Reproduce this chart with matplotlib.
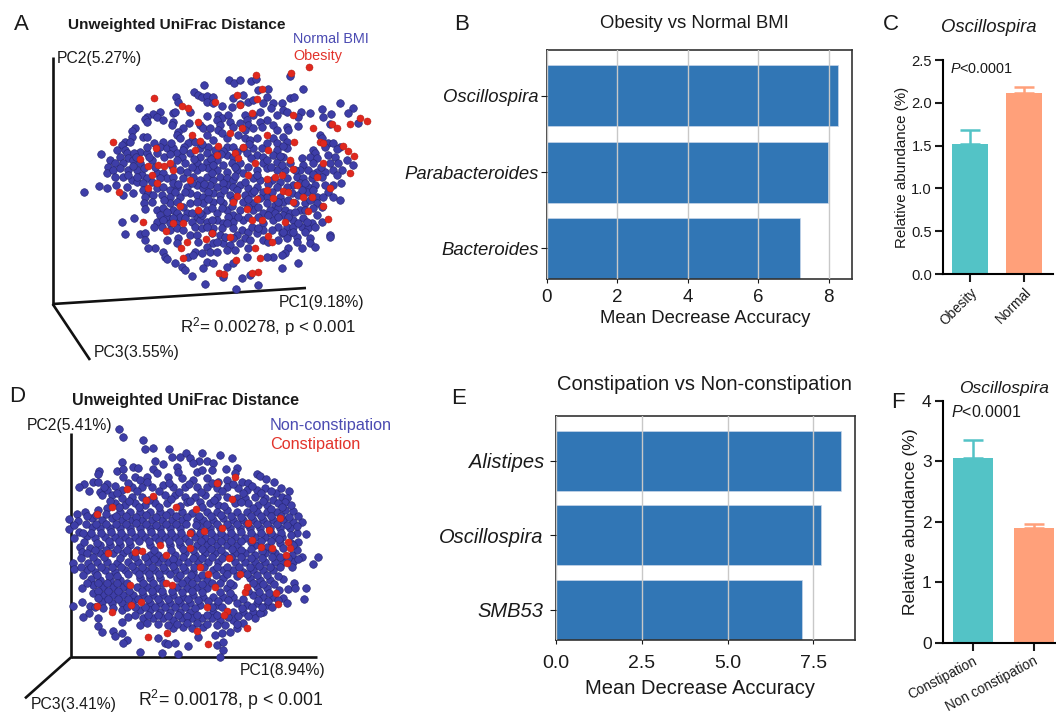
import numpy as np
import matplotlib
matplotlib.use("Agg")
import matplotlib.pyplot as plt

plt.rcParams["font.family"] = ["Liberation Sans", "DejaVu Sans"]
plt.rcParams["mathtext.fontset"] = "custom"
plt.rcParams["mathtext.rm"] = "Liberation Sans"
plt.rcParams["mathtext.it"] = "Liberation Sans:italic"
plt.rcParams["mathtext.default"] = "regular"

W, H = 1056, 712

# PCoA points (picture units, 3 per pixel)
a_normal = np.array([
    686,240, 703,250, 720,240, 752,243, 768,236, 870,228, 908,267, 612,255, 582,275, 593,285, 607,290, 620,287,
    638,290, 528,290, 533,307, 700,295, 730,285, 775,270, 805,268, 800,290, 745,305, 870,293, 882,292, 1019,310,
    416,323, 620,305, 640,310, 665,318, 695,320, 720,312, 760,300, 790,310, 820,310, 845,310, 812,325, 850,330,
    860,335, 902,335, 930,340, 967,327, 993,342, 1060,323, 1045,340, 970,352, 520,340, 480,335, 460,342, 440,350,
    470,350, 525,335, 570,335, 622,347, 655,345, 665,355, 685,345, 735,345, 760,345, 780,335, 800,360, 830,345,
    895,350, 435,358, 440,365, 490,360, 520,365, 515,375, 568,370, 548,385, 535,395, 600,375, 650,360, 660,375,
    690,365, 720,370, 740,360, 745,375, 780,365, 820,375, 860,380, 895,378, 1075,370, 990,372, 405,385, 395,392,
    610,385, 630,385, 655,390, 700,380, 735,390, 760,385, 785,380, 830,390, 865,390, 395,412, 430,410, 440,410,
    375,425, 390,425, 365,435, 490,425, 530,405, 540,415, 575,420, 565,430, 620,405, 640,420, 665,400, 680,415,
    715,405, 735,415, 750,420, 770,415, 820,415, 850,410, 860,425, 960,405, 965,415, 985,430, 1000,430, 1020,440,
    940,450, 945,460, 480,440, 500,445, 520,445, 350,450, 375,450, 600,445, 625,440, 680,440, 730,445, 760,445,
    785,445, 830,430, 830,450, 860,445, 303,463, 360,470, 380,460, 385,475, 400,480, 420,455, 440,460, 470,460,
    530,460, 545,470, 570,460, 600,470, 620,460, 640,470, 680,465, 700,470, 740,460, 770,465, 790,470, 820,465,
    850,470, 905,475, 930,470, 950,475, 985,465, 1005,470, 1040,480, 1060,495, 1015,490, 330,480, 345,490, 370,490,
    420,490, 455,480, 530,480, 555,490, 590,490, 620,485, 650,480, 670,495, 695,490, 720,490, 790,490, 830,485,
    870,490, 910,495, 940,490, 990,490, 325,500, 320,520, 340,510, 360,505, 385,510, 410,510, 425,525, 440,535,
    470,520, 490,520, 540,510, 560,515, 590,510, 625,505, 650,510, 680,515, 710,510, 730,520, 770,510, 800,505,
    830,510, 855,510, 900,510, 925,510, 950,515, 975,515, 1000,510, 1025,510, 1010,525, 345,530, 370,530, 395,540,
    410,545, 430,550, 455,545, 500,535, 520,530, 550,535, 580,530, 600,540, 620,530, 640,540, 660,530, 680,535,
    700,540, 760,535, 780,540, 815,540, 840,545, 890,530, 910,535, 935,535, 965,530, 298,558, 320,565, 348,555,
    380,560, 253,575, 370,585, 400,580, 430,570, 445,580, 470,565, 490,560, 510,570, 530,560, 560,560, 590,555,
    610,565, 630,555, 650,560, 680,555, 700,560, 720,555, 745,565, 770,560, 790,575, 830,560, 880,555, 900,550,
    925,560, 945,555, 975,555, 1000,555, 1022,550, 985,575, 1000,590, 1020,600, 435,590, 510,590, 540,590, 570,580,
    590,585, 610,590, 640,580, 660,585, 690,585, 735,585, 755,580, 800,590, 840,590, 875,580, 895,585, 920,575,
    950,590, 970,590, 432,610, 435,628, 470,630, 490,625, 510,610, 520,630, 550,620, 570,610, 610,610, 640,605,
    670,610, 730,605, 760,610, 800,610, 825,615, 850,605, 885,610, 915,610, 950,610, 965,620, 480,645, 500,650,
    530,640, 560,640, 590,650, 620,630, 650,640, 680,630, 700,645, 720,630, 760,630, 790,640, 810,630, 835,625,
    855,630, 870,640, 900,630, 940,625, 950,645, 367,665, 403,653, 470,665, 490,660, 510,670, 530,665, 575,665,
    600,660, 620,665, 650,660, 670,670, 700,665, 730,660, 745,650, 790,670, 820,660, 850,645, 880,660, 910,655,
    935,670, 965,665, 462,680, 420,703, 375,703, 435,700, 510,690, 530,685, 585,680, 605,685, 640,685, 665,685,
    700,685, 725,690, 745,695, 790,690, 835,680, 860,680, 880,680, 905,680, 925,685, 945,680, 990,705, 435,720,
    500,720, 535,715, 570,705, 590,705, 635,700, 660,705, 710,705, 735,715, 770,700, 845,700, 870,700, 890,710,
    930,715, 990,712, 465,745, 445,745, 530,730, 595,725, 620,740, 640,730, 670,730, 690,735, 720,730, 745,745,
    790,720, 805,725, 835,720, 860,715, 890,725, 905,745, 930,730, 945,742, 490,755, 495,770, 500,778, 585,755,
    605,760, 630,755, 650,755, 680,750, 705,750, 740,770, 865,745, 855,760, 820,770, 800,770, 845,765, 895,790,
    565,770, 580,765, 620,785, 640,790, 525,788, 545,800, 555,810, 575,827, 610,805, 680,800, 700,790, 725,835,
    750,825, 845,803, 615,852, 775,855, 707,868, 670,830,
    442,440, 462,428, 512,428, 552,440, 548,450, 585,425, 607,432, 645,450, 668,452, 700,440, 748,432, 802,430,
    848,438, 975,440, 1010,448, 402,460, 408,470, 448,472, 492,470, 510,462, 582,478, 632,478, 662,462, 712,455,
    752,475, 802,480, 840,468, 398,497, 432,505, 465,500, 515,498, 575,502, 605,500, 640,495, 705,500, 745,500,
    812,500, 845,495, 885,510, 962,500, 385,525, 412,530, 480,535, 520,548, 535,552, 575,548, 612,552, 635,520,
    670,548, 705,528, 735,545, 770,525, 805,552, 862,535, 915,550, 940,522, 460,585, 485,585, 525,575, 555,575,
    625,575, 672,570, 712,570, 762,572, 815,575, 862,560, 905,570, 940,570, 455,605, 492,600, 530,605, 590,605,
    625,598, 660,600, 700,600, 745,598, 780,595, 835,605, 865,600, 930,600, 500,635, 540,650, 575,640, 605,645,
    635,625, 665,625, 695,618, 745,620, 775,622, 825,640, 885,635, 915,630, 485,680, 520,655, 555,655, 600,640,
    635,660, 685,650, 715,650, 775,650, 805,645, 835,650, 865,650, 895,670, 920,665, 550,690, 620,680, 680,670,
    755,680, 775,685, 815,690, 850,695, 880,695, 915,695, 650,725, 675,712, 700,715, 750,720,
]).reshape(-1, 2)

a_obesity = np.array([
    768,225, 872,218, 928,200, 461,295, 545,318, 565,325, 712,285, 785,268, 645,305, 720,315, 770,298, 880,345,
    995,372, 1012,383, 1050,372, 1080,355, 1100,362, 593,367, 725,383, 940,385, 575,405, 690,398, 755,340, 800,405,
    883,425, 340,427, 600,422, 585,450, 468,445, 655,437, 728,440, 805,450, 960,425, 970,430, 1030,437, 1045,452,
    1063,468, 420,478, 445,498, 475,495, 492,497, 510,488, 520,510, 650,465, 705,460, 715,475, 765,490, 870,480,
    878,507, 968,488, 1050,518, 455,525, 470,548, 358,575, 445,563, 570,540, 745,525, 800,537, 825,530, 845,525,
    950,530, 890,555, 800,570, 850,572, 865,575, 710,587, 700,605, 770,598, 820,595, 908,592, 935,590, 880,605,
    990,565, 540,618, 595,630, 740,628, 925,632, 970,617, 430,667, 550,668, 518,670, 755,660, 785,660, 855,665,
    985,657, 497,692, 635,700, 690,710, 805,708, 815,725, 560,725, 618,718, 765,745, 543,745, 550,775, 708,780,
    780,775, 775,815, 755,820, 658,820, 672,822,
]).reshape(-1, 2)

d_nonconst = np.array([
    358,177, 370,202, 430,210, 435,236, 460,233, 507,238, 465,272, 515,262, 540,260, 558,250, 570,265, 607,248,
    597,272, 622,272, 660,256, 695,263, 640,278, 366,275, 298,303, 295,312, 350,303, 368,297, 400,292, 413,293,
    460,297, 490,283, 530,290, 535,305, 580,280, 590,305, 605,300, 635,300, 677,298, 710,295, 705,310, 770,313,
    780,317, 797,327, 823,335, 280,335, 295,335, 252,342, 238,350, 322,342, 345,347, 370,320, 405,320, 420,330,
    440,320, 470,310, 505,320, 545,325, 580,330, 620,325, 655,335, 680,330, 725,335, 745,340, 300,365, 320,360,
    335,375, 305,375, 365,360, 395,350, 425,350, 455,350, 490,345, 520,350, 555,350, 590,350, 620,350, 650,355,
    680,350, 715,355, 740,360, 770,360, 795,355, 828,370, 867,362, 845,380, 860,385, 365,385, 395,380, 425,380,
    460,385, 495,375, 525,375, 555,380, 585,380, 615,375, 650,380, 680,380, 710,385, 735,385, 765,380, 795,385,
    820,390, 855,395, 345,400, 375,405, 405,400, 435,405, 465,400, 500,400, 560,395, 600,395, 630,400, 655,405,
    705,400, 745,400, 775,405, 800,405, 835,400, 256,427, 232,432, 295,420, 322,415, 360,425, 390,425, 420,425,
    450,425, 480,425, 510,425, 545,425, 575,430, 620,425, 650,425, 680,420, 710,425, 740,425, 770,425, 800,425,
    830,425, 855,420, 880,423, 208,447, 235,452, 275,445, 305,450, 335,445, 365,450, 395,450, 425,450, 455,450,
    485,450, 515,450, 545,450, 590,450, 610,450, 640,450, 670,445, 700,450, 730,450, 760,450, 790,450, 820,450,
    850,450, 880,455, 905,455, 208,478, 238,485, 275,472, 300,475, 330,475, 360,475, 390,475, 420,475, 450,475,
    480,475, 510,475, 540,475, 600,470, 630,475, 660,475, 690,475, 720,475, 750,475, 780,475, 810,475, 840,475,
    870,475, 890,490, 917,492, 260,497, 285,505, 315,500, 345,500, 375,500, 405,500, 435,500, 465,500, 495,500,
    525,500, 555,505, 585,500, 615,505, 645,500, 675,500, 705,500, 735,505, 765,500, 795,500, 825,500, 845,500,
    895,515, 240,530, 270,535, 300,525, 330,525, 360,525, 390,525, 450,525, 510,525, 540,525, 590,525, 620,525,
    650,525, 680,525, 710,525, 765,525, 800,530, 840,520, 890,540, 245,545, 300,550, 340,550, 370,550, 395,555,
    450,555, 475,555, 525,555, 555,550, 585,555, 615,550, 645,550, 675,555, 705,550, 735,550, 765,555, 795,550,
    825,550, 875,555, 905,562, 955,560, 938,583, 220,580, 222,597, 265,580, 290,575, 320,575, 350,580, 385,575,
    415,575, 445,575, 475,575, 505,575, 535,575, 565,575, 595,575, 625,575, 655,575, 705,575, 735,575, 765,575,
    795,575, 825,575, 850,575, 880,575, 260,600, 285,605, 315,600, 345,605, 375,600, 405,600, 435,600, 465,600,
    495,600, 525,600, 555,600, 580,605, 640,600, 670,600, 700,600, 730,605, 760,600, 790,600, 820,600, 272,628,
    300,630, 330,630, 360,630, 420,625, 450,625, 480,625, 530,625, 560,630, 590,625, 620,630, 670,625, 750,625,
    780,630, 810,630, 850,628, 883,640, 245,653, 280,645, 310,650, 340,650, 370,650, 410,650, 440,650, 470,655,
    530,650, 560,655, 590,650, 620,655, 680,655, 700,645, 770,650, 800,655, 865,658, 885,655, 917,653, 278,670,
    310,675, 340,675, 370,675, 400,675, 430,675, 460,675, 490,675, 520,675, 550,680, 580,675, 610,680, 640,680,
    670,680, 700,680, 760,675, 790,680, 820,680, 850,685, 911,688, 245,697, 218,708, 270,708, 305,695, 335,700,
    365,700, 395,695, 450,700, 480,700, 510,700, 540,700, 570,700, 600,705, 650,705, 710,700, 740,705, 770,700,
    800,705, 860,700, 248,740, 267,730, 295,745, 310,715, 365,720, 420,720, 450,720, 480,725, 510,725, 540,725,
    570,725, 640,725, 700,725, 730,725, 760,725, 790,725, 293,767, 365,755, 385,742, 430,745, 460,745, 490,745,
    520,750, 545,745, 575,745, 605,745, 635,745, 660,750, 700,750, 730,760, 765,745, 780,730, 305,785, 340,782,
    345,798, 367,790, 382,810, 370,820, 420,765, 520,775, 550,770, 575,775, 595,800, 610,770, 645,795, 665,790,
    690,785, 710,775, 495,820, 505,822, 525,820, 475,805, 563,828, 650,825, 670,815, 670,840, 420,845, 487,848,
    533,852, 660,860,
    268,362, 312,352, 352,368, 383,338, 412,362, 441,337, 476,362, 507,338, 538,366, 568,341, 603,366, 636,338,
    667,364, 698,343, 728,368, 757,349, 783,368, 812,362, 843,355, 331,392, 358,412, 388,392, 418,412, 447,390,
    478,412, 512,388, 541,408, 571,392, 607,412, 641,390, 672,408, 722,396, 758,414, 788,393, 812,416, 847,412,
    872,405, 262,438, 288,436, 318,432, 348,438, 377,437, 407,441, 438,434, 468,441, 497,436, 528,438, 560,440,
    597,437, 632,437, 662,435, 692,438, 722,440, 752,437, 783,438, 812,438, 842,437, 866,440, 893,438, 222,465,
    258,462, 288,461, 318,462, 349,461, 378,463, 409,460, 439,463, 468,464, 497,461, 528,462, 558,461, 588,465,
    622,462, 652,462, 682,462, 712,461, 741,463, 772,463, 802,462, 832,463, 862,464, 890,468, 222,505, 248,488,
    272,490, 302,488, 332,487, 362,488, 394,487, 422,490, 452,487, 482,488, 512,490, 543,488, 572,487, 601,488,
    632,489, 662,488, 692,488, 722,487, 752,490, 782,488, 812,488, 843,490, 872,495, 252,515, 292,518, 328,512,
    358,512, 388,514, 418,514, 448,512, 478,512, 508,512, 538,512, 568,516, 602,514, 632,512, 662,512, 692,514,
    722,512, 752,516, 782,512, 812,514, 838,508, 872,520, 262,550, 285,540, 318,540, 352,538, 382,540, 412,540,
    462,540, 512,540, 548,538, 578,540, 606,538, 632,538, 664,540, 696,538, 724,540, 752,538, 785,542, 815,540,
    850,535, 880,525, 242,565, 280,562, 312,562, 360,563, 405,562, 435,562, 462,566, 490,563, 518,566, 548,562,
    578,563, 605,563, 635,562, 665,565, 692,562, 722,562, 752,563, 785,563, 815,562, 840,562, 865,565, 893,568,
    242,590, 272,592, 302,590, 335,590, 362,590, 395,588, 425,590, 455,590, 490,590, 520,588, 550,590, 582,590,
    612,592, 650,590, 680,590, 718,590, 750,590, 778,588, 810,590, 840,590, 875,590, 250,615, 292,616, 328,618,
    352,618, 385,612, 418,612, 448,612, 478,612, 510,612, 540,615, 572,615, 605,615, 648,615, 680,612, 712,618,
    742,612, 772,615, 802,615, 835,618, 262,640, 295,640, 322,640, 352,640, 382,638, 428,640, 458,640, 490,640,
    545,640, 575,640, 605,642, 635,640, 660,640, 690,640, 760,640, 790,642, 822,642, 295,662, 325,662, 355,662,
    388,662, 425,662, 455,662, 485,662, 515,662, 545,666, 575,662, 605,666, 660,666, 690,668, 745,662, 778,665,
    808,668, 838,660, 295,685, 325,688, 355,688, 385,688, 415,688, 445,688, 475,688, 505,688, 535,690, 565,688,
    595,690, 625,692, 655,692, 685,690, 730,688, 775,690, 805,692, 835,690, 285,712, 340,715, 380,712, 405,712,
    435,712, 465,712, 495,712, 525,712, 555,712, 585,715, 635,712, 665,712, 725,715, 755,712, 785,712, 815,712,
    405,735, 445,735, 475,735, 505,738, 535,735, 560,738, 590,735, 620,735, 650,735, 685,740, 715,738, 745,738,
    440,760, 475,762, 505,765, 530,762, 560,760, 590,760, 620,762, 650,765, 675,765, 710,762,
]).reshape(-1, 2)

d_const = np.array([
    382,357, 335,412, 290,432, 438,390, 460,378, 528,410, 588,418, 705,322, 695,386, 650,340, 571,488, 612,483,
    480,525, 427,543, 325,550, 497,556, 570,533, 687,565, 755,510, 865,517, 870,535, 858,556, 860,580, 815,535,
    783,530, 600,592, 625,612, 645,650, 720,612, 735,665, 740,652, 515,645, 497,640, 390,645, 422,695, 393,706,
    290,708, 337,727, 620,712, 680,722, 673,735, 740,773, 828,670, 833,703, 590,783, 502,790, 444,800, 623,822,
    405,545, 808,480, 745,458, 665,475, 840,443,
]).reshape(-1, 2)

# random forest importance
b_taxa = ["Bacteroides", "Parabacteroides", "Oscillospira"]
b_mda = [7.18, 7.98, 8.26]
e_taxa = ["SMB53", "Oscillospira", "Alistipes"]
e_mda = [7.16, 7.72, 8.30]

# Oscillospira abundance
c_groups = ["Obesity", "Normal"]
c_mean = [1.52, 2.11]
c_err = [0.16, 0.075]
f_groups = ["Constipation", "Non constipation"]
f_mean = [3.06, 1.90]
f_err = [0.29, 0.06]

teal = "#53c3c6"
salmon = "#ffa07a"
bar_blue = "#3176b5"
dot_blue = "#3e3ea8"
dot_red = "#e0281e"
ink = "#1a1a1a"


def px_axes(l, t, r, b):
    return fig.add_axes([l / W, 1 - b / H, (r - l) / W, (b - t) / H])


def px_text(x, y, s, **kw):
    kw.setdefault("color", ink)
    kw.setdefault("va", "center")
    fig.text(x / W, 1 - y / H, s, **kw)


def pcoa(box, blue, red, axes_xy):
    ax = px_axes(*box)
    ax.set_xlim(0, (box[2] - box[0]) * 3)
    ax.set_ylim((box[3] - box[1]) * 3, 0)
    ax.axis("off")
    for xs, ys in axes_xy:
        ax.plot(xs, ys, color="#111111", lw=1.9, solid_capstyle="butt", zorder=1)
    ax.scatter(blue[:, 0], blue[:, 1], s=30, color=dot_blue, edgecolor="#272775", lw=0.45, zorder=2)
    ax.scatter(red[:, 0], red[:, 1], s=26, color=dot_red, edgecolor="#a82018", lw=0.3, zorder=3)
    return ax


def importance(box, taxa, vals, xmax, ticks, ticklabels, fs, lab_fs, xpad, lpad, ypad, lab_x):
    ax = px_axes(*box)
    ax.barh(taxa, vals, height=0.8, color=bar_blue, edgecolor="#c9d6ea", lw=0.5, zorder=2)
    ax.set_xlim(0, xmax)
    ax.set_ylim(-0.4, 2.6)
    ax.set_xticks(ticks)
    ax.set_xticklabels(ticklabels)
    ax.grid(axis="x", color="#c8c8c8", lw=1.0, zorder=3)
    ax.set_axisbelow(False)
    ax.tick_params(axis="x", labelsize=fs, length=3, width=0.8, pad=xpad, colors=ink)
    ax.tick_params(axis="y", length=4, width=0.8, pad=ypad, colors=ink)
    for lab in ax.get_yticklabels():
        lab.set_fontstyle("italic")
        lab.set_fontsize(lab_fs)
    ax.set_xlabel("Mean Decrease Accuracy", fontsize=lab_fs, color=ink, labelpad=lpad, x=lab_x)
    for s in ax.spines.values():
        s.set_linewidth(1.2)
        s.set_color("#333333")
    return ax


def abundance(box, groups, mean, err, ymax, yticks, yfmt, rot, tick_fs, ylab_fs, label_fs, xlim, lpad):
    ax = px_axes(*box)
    xs = [0, 1]
    colors = [teal, salmon]
    ax.bar(xs, mean, width=0.66, color=colors, edgecolor="none", zorder=2)
    for x, m, e, c in zip(xs, mean, err, colors):
        ax.errorbar(x, m, yerr=[[0], [e]], color=c, capsize=7.5, capthick=1.8, elinewidth=1.8, zorder=1)
    ax.set_xlim(*xlim)
    ax.set_ylim(0, ymax)
    ax.set_yticks(yticks)
    ax.set_yticklabels([yfmt % t for t in yticks], fontsize=tick_fs, color=ink)
    ax.set_xticks(xs)
    ax.set_xticklabels(groups, rotation=rot, ha="right", rotation_mode="anchor", fontsize=label_fs, color=ink)
    ax.tick_params(length=6, width=1.5, pad=2, color="#1a1a1a")
    ax.spines["top"].set_visible(False)
    ax.spines["right"].set_visible(False)
    ax.spines["left"].set_linewidth(1.5)
    ax.spines["bottom"].set_linewidth(1.5)
    ax.set_ylabel("Relative abundance (%)", fontsize=ylab_fs, color=ink, labelpad=lpad)
    return ax


fig = plt.figure(figsize=(W / 100, H / 100), dpi=100)

pcoa((0, 0, 400, 370), a_normal, a_obesity,
     [([158, 158], [170, 914]), ([158, 918], [912, 864]), ([158, 270], [912, 1080])])
pcoa((0, 370, 400, 712), d_nonconst, d_const,
     [([213, 213], [190, 864]), ([213, 952], [862, 862]), ([213, 75], [862, 985])])

importance((547, 50, 852, 279), b_taxa, b_mda, 8.66, [0, 2, 4, 6, 8], ["0", "2", "4", "6", "8"],
           13.5, 13.3, 4, 3, 2, 0.52)
importance((556.3, 416, 855, 639.7), e_taxa, e_mda, 8.716, [0, 2.5, 5, 7.5], ["0.0", "2.5", "5.0", "7.5"],
           14, 14.5, 8, 5, 5, 0.481)

abundance((943, 60, 1053, 274), c_groups, c_mean, c_err, 2.5, [0, 0.5, 1, 1.5, 2, 2.5], "%.1f", 45,
          10.6, 10.9, 9.8, (-0.5, 1.53), 1.5)
abundance((942.7, 400.7, 1056, 642.7), f_groups, f_mean, f_err, 4, [0, 1, 2, 3, 4], "%d", 28,
          12.5, 12.6, 9.8, (-0.5, 1.37), 3)

# panel letters
for x, y, s in [(21, 25, "A"), (462, 24, "B"), (891, 25, "C"), (17, 396, "D"), (459, 399, "E"), (898, 402, "F")]:
    px_text(x, y, s, fontsize=16, ha="center")

# PCoA text
px_text(176.5, 25, "Unweighted UniFrac Distance", fontsize=11.05, fontweight="bold", ha="center")
px_text(293, 39, "Normal BMI", fontsize=10.4, color="#4b4bb2")
px_text(293, 56, "Obesity", fontsize=10.4, color="#e2332b")
px_text(57, 59, "PC2(5.27%)", fontsize=11.3)
px_text(279, 302, "PC1(9.18%)", fontsize=11.3)
px_text(94, 353, "PC3(3.55%)", fontsize=11.3)
px_text(180, 327, "R$^2$= 0.00278, p < 0.001", fontsize=12.2)

px_text(185.5, 401, "Unweighted UniFrac Distance", fontsize=11.55, fontweight="bold", ha="center")
px_text(270, 425, "Non-constipation", fontsize=11.7, color="#4b4bb2")
px_text(270, 445, "Constipation", fontsize=11.7, color="#e2332b")
px_text(27, 425, "PC2(5.41%)", fontsize=11.3)
px_text(240, 670, "PC1(8.94%)", fontsize=11.3)
px_text(31, 704, "PC3(3.41%)", fontsize=11.3)
px_text(138, 700, "R$^2$= 0.00178, p < 0.001", fontsize=12.8)

# titles
px_text(694.5, 24, "Obesity vs Normal BMI", fontsize=13.3, ha="center")
px_text(704, 385, "Constipation vs Non-constipation", fontsize=14.5, ha="center")
px_text(989, 27, "Oscillospira", fontsize=13.3, style="italic", ha="center")
px_text(1004, 389, "Oscillospira", fontsize=12.5, style="italic", ha="center")

px_text(950, 69, "$\\mathit{P}$<0.0001", fontsize=10.4)
px_text(951, 412, "$\\mathit{P}$<0.0001", fontsize=11.5)

fig.savefig("out.png", dpi=100)
